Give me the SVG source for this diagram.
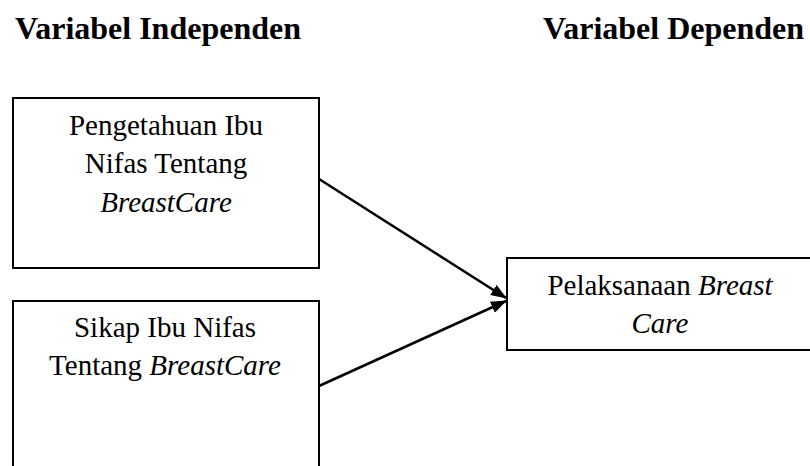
<svg xmlns="http://www.w3.org/2000/svg" width="810" height="466" viewBox="0 0 810 466">
<defs>
<style>
.box{fill:#fff;stroke:#000;stroke-width:2}
.t{font-family:"Liberation Serif","Times New Roman",serif;font-size:29px;fill:#000;text-anchor:middle}
.h{font-family:"Liberation Serif","Times New Roman",serif;font-size:32px;font-weight:bold;fill:#000}
.i{font-style:italic}
.c{stroke:#000;stroke-width:2.5;fill:none}
</style>
<marker id="ah" markerWidth="16" markerHeight="12" refX="15" refY="6" orient="auto" markerUnits="userSpaceOnUse">
<path d="M0,0 L16,6 L0,12 Z" fill="#000"/>
</marker>
</defs>
<rect width="810" height="466" fill="#fff"/>
<text class="h" x="15" y="39">Variabel Independen</text>
<text class="h" x="543" y="39">Variabel Dependen</text>
<g id="n1">
<rect class="box" x="13" y="98" width="306" height="170"/>
<text class="t" x="166" y="135">Pengetahuan Ibu</text>
<text class="t" x="166" y="173">Nifas Tentang</text>
<text class="t i" x="166" y="212">BreastCare</text>
</g>
<g id="n2">
<rect class="box" x="13" y="301" width="306" height="200"/>
<text class="t" x="165" y="337">Sikap Ibu Nifas</text>
<text class="t" x="165" y="375">Tentang <tspan class="i">BreastCare</tspan></text>
</g>
<g id="n3">
<rect class="box" x="507" y="258" width="320" height="92"/>
<text class="t" x="660" y="295">Pelaksanaan <tspan class="i">Breast</tspan></text>
<text class="t i" x="660" y="333">Care</text>
</g>
<g id="connectors">
<line class="c" x1="319" y1="179" x2="506" y2="298" marker-end="url(#ah)"/>
<line class="c" x1="319" y1="386" x2="506" y2="301" marker-end="url(#ah)"/>
</g>
</svg>
